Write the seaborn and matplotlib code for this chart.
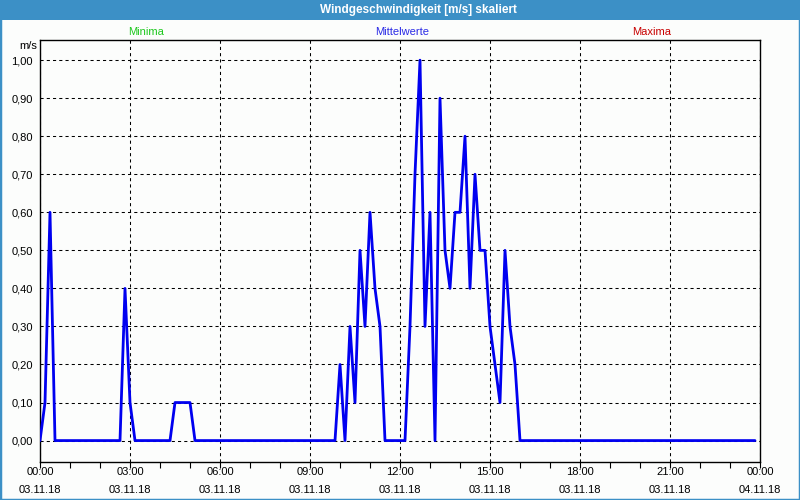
import matplotlib
matplotlib.use("Agg")
import matplotlib.pyplot as plt
import pandas as pd
import seaborn as sns
from matplotlib.patches import Rectangle

# ---- data (time of day, mean wind speed in m/s) ----
times = ["00:00", "00:10", "00:20", "00:30",
         "02:40", "02:50", "03:00", "03:10",
         "04:20", "04:30", "05:00", "05:10",
         "09:50", "10:00", "10:10", "10:20", "10:30", "10:40", "10:50",
         "11:00", "11:10", "11:20", "11:30",
         "12:10", "12:20", "12:30", "12:40", "12:50", "13:00", "13:10",
         "13:20", "13:30", "13:40", "13:50", "14:00", "14:10", "14:20",
         "14:30", "14:40", "14:50", "15:00", "15:10", "15:20", "15:30",
         "15:40", "15:50", "16:00", "23:50"]
values = [0.0, 0.1, 0.6, 0.0,
          0.0, 0.4, 0.1, 0.0,
          0.0, 0.1, 0.1, 0.0,
          0.0, 0.2, 0.0, 0.3, 0.1, 0.5, 0.3,
          0.6, 0.4, 0.3, 0.0,
          0.0, 0.3, 0.7, 1.0, 0.3, 0.6, 0.0,
          0.9, 0.5, 0.4, 0.6, 0.6, 0.8, 0.4,
          0.7, 0.5, 0.5, 0.3, 0.2, 0.1, 0.5,
          0.3, 0.2, 0.0, 0.0]

tick_hours = [0, 3, 6, 9, 12, 15, 18, 21, 24]
tick_times = ["00:00", "03:00", "06:00", "09:00", "12:00", "15:00", "18:00", "21:00", "00:00"]
tick_dates = ["03.11.18"] * 8 + ["04.11.18"]
y_ticks = [0.0, 0.1, 0.2, 0.3, 0.4, 0.5, 0.6, 0.7, 0.8, 0.9, 1.0]

title = "Windgeschwindigkeit [m/s] skaliert"
unit_label = "m/s"
legend_labels = ["Minima", "Mittelwerte", "Maxima"]
legend_colors = ["#1ec81e", "#2a2ae6", "#c80000"]
legend_x_px = [146, 402, 652]

# ---- build ----
minutes = [int(t.split(":")[0]) * 60 + int(t.split(":")[1]) for t in times]
df = pd.DataFrame({"minute": minutes, "value": values})

sns.set_style("white")
plt.rcParams["font.family"] = ["Liberation Sans", "DejaVu Sans"]
plt.rcParams["text.color"] = "black"
plt.rcParams["xtick.color"] = "black"
plt.rcParams["ytick.color"] = "black"

W, H = 800, 500
bg = "#fcfdfc"
frame_blue = "#3c90c6"

fig = plt.figure(figsize=(8, 5), dpi=100, facecolor=bg)
ax = fig.add_axes([40 / W, 1 - 461.5 / H, 720 / W, (461.5 - 40) / H])
ax.set_facecolor(bg)

ax.set_xlim(0, 1440)
ax.set_ylim(-0.055, 1.053)

sns.lineplot(data=df, x="minute", y="value", ax=ax, color="#0000f0",
             linewidth=2.0, estimator=None, zorder=3)

ax.set_xticks([h * 60 for h in tick_hours])
ax.set_xticklabels([f"{a}\n{b}" for a, b in zip(tick_times, tick_dates)],
                   fontsize=8, linespacing=1.95)
ax.set_xticks(list(range(0, 1441, 60)), minor=True)
ax.set_yticks(y_ticks)
ax.set_yticklabels([f"{v:.2f}".replace(".", ",") for v in y_ticks], fontsize=8)

ax.tick_params(axis="x", which="both", direction="out", length=4, width=0.8,
               color="black", bottom=True, pad=0, labelcolor="black")
ax.tick_params(axis="y", length=0, pad=5, labelcolor="black")
ax.set_xlabel("")
ax.set_ylabel("")

ax.grid(True, which="major", color="black", linestyle=(0, (3, 3)), linewidth=0.75, zorder=1)
ax.set_axisbelow(True)

for s in ax.spines.values():
    s.set_visible(True)
    s.set_color("black")
    s.set_linewidth(1.0)

# window frame and title bar
fig.patches.append(Rectangle((0, 1 - 20 / H), 1, 20 / H, transform=fig.transFigure,
                             facecolor=frame_blue, edgecolor="none", zorder=0))
fig.patches.append(Rectangle((0, 0), 1, 1, transform=fig.transFigure, fill=False,
                             edgecolor=frame_blue, linewidth=2.5, zorder=0))
fig.text(418 / W, 1 - 10.5 / H, title, color="white", fontsize=8.5, fontweight="bold",
         ha="center", va="center")

for lab, col, xp in zip(legend_labels, legend_colors, legend_x_px):
    fig.text(xp / W, 1 - 32 / H, lab, color=col, fontsize=8, ha="center", va="center")

fig.text(28 / W, 1 - 46 / H, unit_label, fontsize=8, ha="center", va="center", color="black")

fig.savefig("out.png", dpi=100, facecolor=bg)
